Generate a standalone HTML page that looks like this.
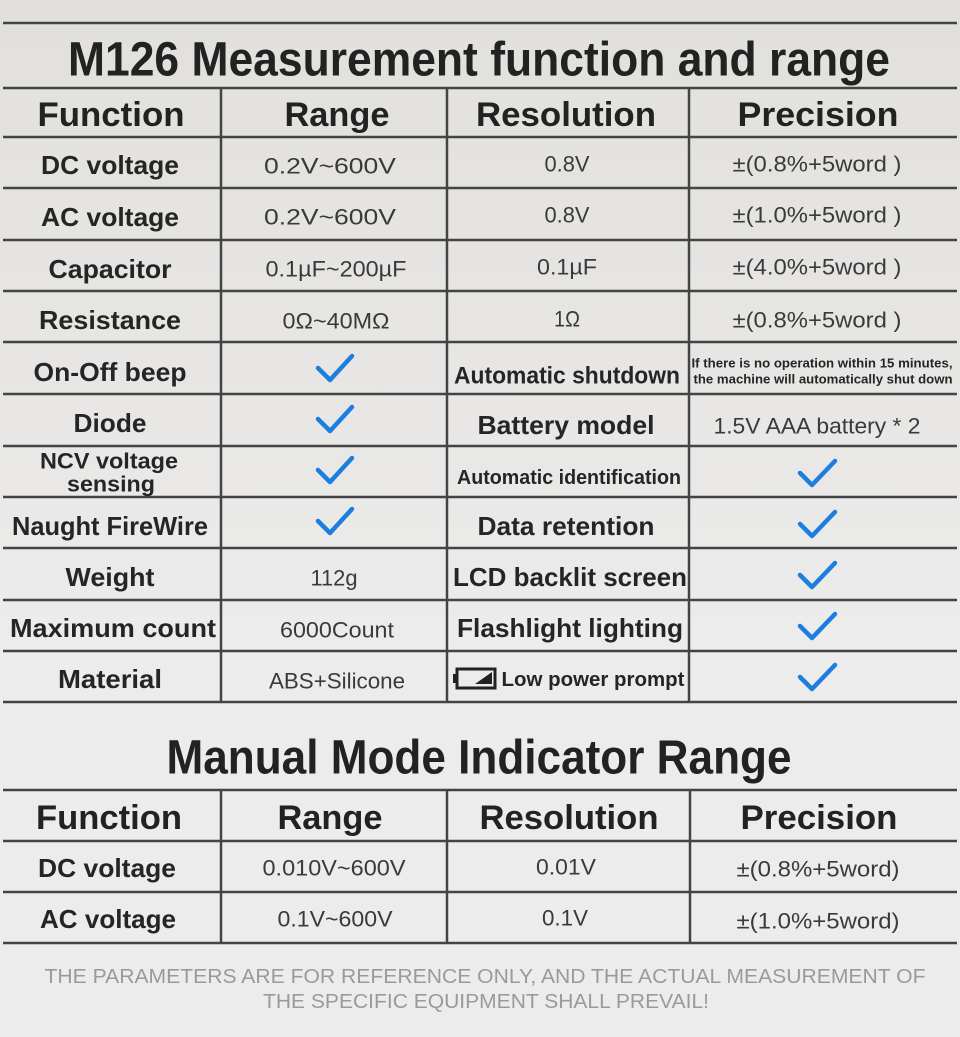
<!DOCTYPE html>
<html><head><meta charset="utf-8"><style>
html,body{margin:0;padding:0;background:#ebebeb;}
svg{display:block}
.h{font-family:"Liberation Sans",sans-serif;font-weight:bold;fill:#222}
.l{font-family:"Liberation Sans",sans-serif;font-weight:bold;fill:#252525}
.v{font-family:"Liberation Sans",sans-serif;fill:#3a3a3a}
.f{font-family:"Liberation Sans",sans-serif;fill:#9a9a9a}
.ck{fill:none;stroke:#1c7fe0;stroke-width:4.5;stroke-linecap:round;stroke-linejoin:round}
</style></head><body>
<svg width="960" height="1037" viewBox="0 0 960 1037" xmlns="http://www.w3.org/2000/svg">
<defs>
<linearGradient id="bg" x1="0" y1="0" x2="0" y2="1">
<stop offset="0" stop-color="#e2e0dc"/><stop offset="0.4" stop-color="#e8e7e5"/><stop offset="0.62" stop-color="#ececec"/><stop offset="1" stop-color="#ececec"/>
</linearGradient>
</defs>
<rect width="960" height="1037" fill="url(#bg)"/>
<g stroke="#444" stroke-width="2.5">
<line x1="3" y1="23" x2="957" y2="23"/>
<line x1="3" y1="88" x2="957" y2="88"/>
<line x1="3" y1="137" x2="957" y2="137"/>
<line x1="3" y1="188" x2="957" y2="188"/>
<line x1="3" y1="240" x2="957" y2="240"/>
<line x1="3" y1="291" x2="957" y2="291"/>
<line x1="3" y1="342" x2="957" y2="342"/>
<line x1="3" y1="394" x2="957" y2="394"/>
<line x1="3" y1="446" x2="957" y2="446"/>
<line x1="3" y1="497" x2="957" y2="497"/>
<line x1="3" y1="548" x2="957" y2="548"/>
<line x1="3" y1="600" x2="957" y2="600"/>
<line x1="3" y1="651" x2="957" y2="651"/>
<line x1="3" y1="702" x2="957" y2="702"/>
<line x1="221" y1="88" x2="221" y2="702"/>
<line x1="447" y1="88" x2="447" y2="702"/>
<line x1="689" y1="88" x2="689" y2="702"/>
<line x1="3" y1="790" x2="957" y2="790"/>
<line x1="3" y1="841" x2="957" y2="841"/>
<line x1="3" y1="892" x2="957" y2="892"/>
<line x1="3" y1="943" x2="957" y2="943"/>
<line x1="221" y1="790" x2="221" y2="943"/>
<line x1="447" y1="790" x2="447" y2="943"/>
<line x1="690" y1="790" x2="690" y2="943"/>
</g>
<g dominant-baseline="central" text-anchor="middle" transform="translate(0,2)">
<text class="h" x="479" y="58" font-size="48" textLength="822" lengthAdjust="spacingAndGlyphs">M126 Measurement function and range</text>
<text class="h" x="111" y="113" font-size="34" textLength="147" lengthAdjust="spacingAndGlyphs">Function</text>
<text class="h" x="337" y="113" font-size="34" textLength="105" lengthAdjust="spacingAndGlyphs">Range</text>
<text class="h" x="566" y="113" font-size="34" textLength="180" lengthAdjust="spacingAndGlyphs">Resolution</text>
<text class="h" x="818" y="113" font-size="34" textLength="161" lengthAdjust="spacingAndGlyphs">Precision</text>

<text class="l" x="110" y="163" font-size="26" textLength="138" lengthAdjust="spacingAndGlyphs">DC voltage</text>
<text class="v" x="330" y="164" font-size="22" textLength="132" lengthAdjust="spacingAndGlyphs">0.2V~600V</text>
<text class="v" x="567" y="162" font-size="22" textLength="45" lengthAdjust="spacingAndGlyphs">0.8V</text>
<text class="v" x="817" y="162" font-size="22" textLength="169" lengthAdjust="spacingAndGlyphs">±(0.8%+5word )</text>

<text class="l" x="110" y="215" font-size="26" textLength="138" lengthAdjust="spacingAndGlyphs">AC voltage</text>
<text class="v" x="330" y="215" font-size="22" textLength="132" lengthAdjust="spacingAndGlyphs">0.2V~600V</text>
<text class="v" x="567" y="213" font-size="22" textLength="45" lengthAdjust="spacingAndGlyphs">0.8V</text>
<text class="v" x="817" y="213" font-size="22" textLength="169" lengthAdjust="spacingAndGlyphs">±(1.0%+5word )</text>

<text class="l" x="110" y="267" font-size="26" textLength="123" lengthAdjust="spacingAndGlyphs">Capacitor</text>
<text class="v" x="336" y="267" font-size="22" textLength="141" lengthAdjust="spacingAndGlyphs">0.1µF~200µF</text>
<text class="v" x="567" y="265" font-size="22" textLength="60" lengthAdjust="spacingAndGlyphs">0.1µF</text>
<text class="v" x="817" y="265" font-size="22" textLength="169" lengthAdjust="spacingAndGlyphs">±(4.0%+5word )</text>

<text class="l" x="110" y="318" font-size="26" textLength="142" lengthAdjust="spacingAndGlyphs">Resistance</text>
<text class="v" x="336" y="319" font-size="22" textLength="107" lengthAdjust="spacingAndGlyphs">0Ω~40MΩ</text>
<text class="v" x="567" y="317" font-size="22" textLength="26" lengthAdjust="spacingAndGlyphs">1Ω</text>
<text class="v" x="817" y="318" font-size="22" textLength="169" lengthAdjust="spacingAndGlyphs">±(0.8%+5word )</text>

<text class="l" x="110" y="370" font-size="26" textLength="153" lengthAdjust="spacingAndGlyphs">On-Off beep</text>
<text class="l" x="567" y="374" font-size="24" textLength="226" lengthAdjust="spacingAndGlyphs">Automatic shutdown</text>
<text class="l" x="822" y="361" font-size="13" textLength="261" lengthAdjust="spacingAndGlyphs">If there is no operation within 15 minutes,</text>
<text class="l" x="823" y="377" font-size="13" textLength="259" lengthAdjust="spacingAndGlyphs">the machine will automatically shut down</text>

<text class="l" x="110" y="421" font-size="26" textLength="73" lengthAdjust="spacingAndGlyphs">Diode</text>
<text class="l" x="566" y="423" font-size="26" textLength="177" lengthAdjust="spacingAndGlyphs">Battery model</text>
<text class="v" x="817" y="424" font-size="22" textLength="207" lengthAdjust="spacingAndGlyphs">1.5V AAA battery * 2</text>

<text class="l" x="109" y="459" font-size="22" textLength="138" lengthAdjust="spacingAndGlyphs">NCV voltage</text>
<text class="l" x="111" y="482" font-size="22" textLength="88" lengthAdjust="spacingAndGlyphs">sensing</text>
<text class="l" x="569" y="476" font-size="20" textLength="224" lengthAdjust="spacingAndGlyphs">Automatic identification</text>

<text class="l" x="110" y="524" font-size="26" textLength="196" lengthAdjust="spacingAndGlyphs">Naught FireWire</text>
<text class="l" x="566" y="524" font-size="26" textLength="177" lengthAdjust="spacingAndGlyphs">Data retention</text>

<text class="l" x="110" y="575" font-size="26" textLength="89" lengthAdjust="spacingAndGlyphs">Weight</text>
<text class="v" x="334" y="576" font-size="22" textLength="47" lengthAdjust="spacingAndGlyphs">112g</text>
<text class="l" x="570" y="575" font-size="26" textLength="234" lengthAdjust="spacingAndGlyphs">LCD backlit screen</text>

<text class="l" x="113" y="626" font-size="26" textLength="206" lengthAdjust="spacingAndGlyphs">Maximum count</text>
<text class="v" x="337" y="628" font-size="22" textLength="114" lengthAdjust="spacingAndGlyphs">6000Count</text>
<text class="l" x="570" y="626" font-size="26" textLength="226" lengthAdjust="spacingAndGlyphs">Flashlight lighting</text>

<text class="l" x="110" y="677" font-size="26" textLength="104" lengthAdjust="spacingAndGlyphs">Material</text>
<text class="v" x="337" y="679" font-size="22" textLength="136" lengthAdjust="spacingAndGlyphs">ABS+Silicone</text>
<text class="l" x="593" y="678" font-size="20" textLength="183" lengthAdjust="spacingAndGlyphs">Low power prompt</text>

<text class="h" x="479" y="756" font-size="48" textLength="625" lengthAdjust="spacingAndGlyphs">Manual Mode Indicator Range</text>
<text class="h" x="109" y="816" font-size="34" textLength="146" lengthAdjust="spacingAndGlyphs">Function</text>
<text class="h" x="330" y="816" font-size="34" textLength="105" lengthAdjust="spacingAndGlyphs">Range</text>
<text class="h" x="569" y="816" font-size="34" textLength="179" lengthAdjust="spacingAndGlyphs">Resolution</text>
<text class="h" x="819" y="816" font-size="34" textLength="157" lengthAdjust="spacingAndGlyphs">Precision</text>

<text class="l" x="107" y="866" font-size="26" textLength="138" lengthAdjust="spacingAndGlyphs">DC voltage</text>
<text class="v" x="334" y="866" font-size="22" textLength="143" lengthAdjust="spacingAndGlyphs">0.010V~600V</text>
<text class="v" x="566" y="865" font-size="22" textLength="60" lengthAdjust="spacingAndGlyphs">0.01V</text>
<text class="v" x="818" y="867" font-size="22" textLength="163" lengthAdjust="spacingAndGlyphs">±(0.8%+5word)</text>

<text class="l" x="108" y="917" font-size="26" textLength="136" lengthAdjust="spacingAndGlyphs">AC voltage</text>
<text class="v" x="335" y="917" font-size="22" textLength="115" lengthAdjust="spacingAndGlyphs">0.1V~600V</text>
<text class="v" x="565" y="916" font-size="22" textLength="46" lengthAdjust="spacingAndGlyphs">0.1V</text>
<text class="v" x="818" y="919" font-size="22" textLength="163" lengthAdjust="spacingAndGlyphs">±(1.0%+5word)</text>

<text class="f" x="485" y="975" font-size="20" textLength="881" lengthAdjust="spacingAndGlyphs">THE PARAMETERS ARE FOR REFERENCE ONLY, AND THE ACTUAL MEASUREMENT OF</text>
<text class="f" x="486" y="1000" font-size="20" textLength="446" lengthAdjust="spacingAndGlyphs">THE SPECIFIC EQUIPMENT SHALL PREVAIL!</text>
</g>
<g>
<rect x="457" y="669" width="38" height="19" fill="none" stroke="#222" stroke-width="3"/>
<rect x="453" y="674" width="4" height="9" fill="#222"/>
<polygon points="475,684 492,672 492,684" fill="#222"/>
</g>
<g class="ck">
<path d="M318,368 L330,380 L352,356"/>
<path d="M318,419 L330,431 L352,407"/>
<path d="M318,470 L330,482 L352,458"/>
<path d="M318,521 L330,533 L352,509"/>
<path d="M800,473 L812,485 L835,461"/>
<path d="M800,524 L812,536 L835,512"/>
<path d="M800,575 L812,587 L835,563"/>
<path d="M800,626 L812,638 L835,614"/>
<path d="M800,677 L812,689 L835,665"/>
</g>
</svg>
</body></html>
